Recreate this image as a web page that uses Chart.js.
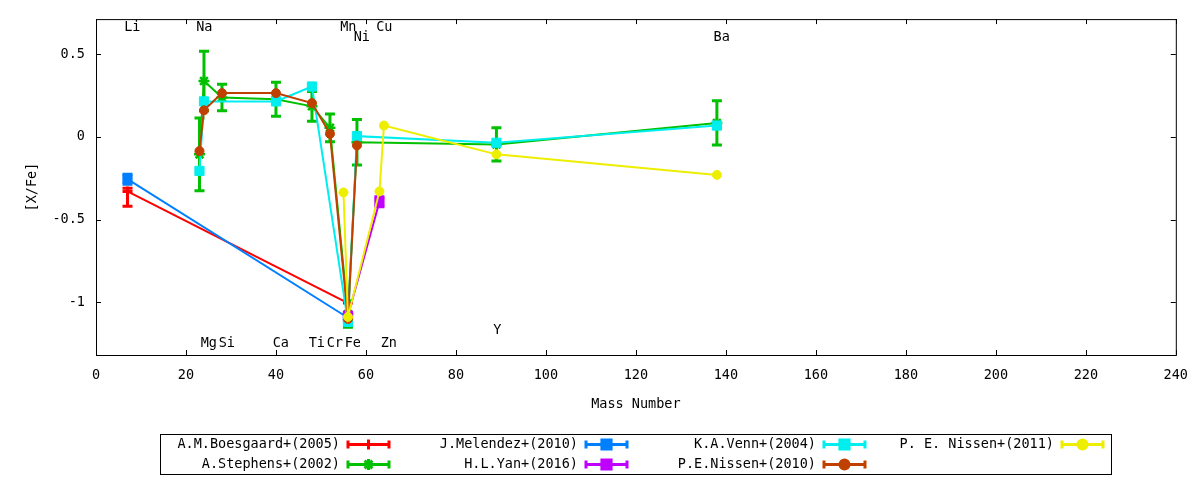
<!DOCTYPE html>
<html>
<head>
<meta charset="utf-8">
<script src="https://cdn.jsdelivr.net/npm/chart.js@4.4.1/dist/chart.umd.min.js"></script>
<style>
  html, body { margin: 0; padding: 0; background: #fff; }
  #wrap { width: 1200px; height: 480px; }
</style>
</head>
<body>
<div id="wrap"><canvas id="chart" width="1200" height="480"></canvas></div>
<script>
// axis ticks
const xTicks = [0, 20, 40, 60, 80, 100, 120, 140, 160, 180, 200, 220, 240];
const yTicks = [-1, -0.5, 0, 0.5];

// element labels (mass, [X/Fe] height where the name sits)
const elementNames  = ['Li', 'Na', 'Mn', 'Ni', 'Cu', 'Ba', 'Mg', 'Si', 'Ca', 'Ti', 'Cr', 'Fe', 'Zn', 'Y'];
const elementMasses = [7, 23, 55, 58, 63, 138, 24, 28, 40, 48, 52, 56, 64, 89];
const elementLabelY = [0.66, 0.66, 0.66, 0.60, 0.66, 0.60, -1.25, -1.25, -1.25, -1.25, -1.25, -1.25, -1.25, -1.17];

// A.M.Boesgaard+(2005)
const boesgaardX = [7, 56];
const boesgaardY = [-0.33, -1.004];
const boesgaardLow = [-0.42, null];
const boesgaardHigh = [-0.31, null];

// A.Stephens+(2002)
const stephensX = [23, 24, 28, 40, 48, 52, 56, 58, 89, 138];
const stephensY = [-0.106, 0.337, 0.238, 0.227, 0.184, 0.054, -1.07, -0.033, -0.046, 0.084];
const stephensErr = [0.22, 0.18, 0.08, 0.103, 0.09, 0.084, 0.08, 0.137, 0.10, 0.134];

// J.Melendez+(2010)
const melendezX = [7, 56];
const melendezY = [-0.256, -1.093];
const melendezErr = [0.03, 0];

// H.L.Yan+(2016)
const yanX = [56, 63];
const yanY = [-1.08, -0.392];
const yanErr = [0, 0.03];

// K.A.Venn+(2004)
const vennX = [23, 24, 40, 48, 56, 58, 89, 138];
const vennY = [-0.206, 0.214, 0.214, 0.304, -1.118, 0.004, -0.036, 0.068];

// P.E.Nissen+(2010)
const nissen10X = [23, 24, 28, 40, 48, 52, 56, 58];
const nissen10Y = [-0.086, 0.160, 0.264, 0.264, 0.204, 0.018, -1.10, -0.052];

// P. E. Nissen+(2011)
const nissen11X = [55, 56, 63, 64, 89, 138];
const nissen11Y = [-0.336, -1.088, -0.330, 0.068, -0.106, -0.230];

const FONT = '"DejaVu Sans Mono", "Liberation Mono", monospace';

function points(xs, ys) {
  return xs.map((x, i) => ({ x: x, y: ys[i] }));
}

function symErrors(ys, errs) {
  return ys.map((y, i) => errs[i] ? [y - errs[i], y + errs[i]] : null);
}

function makeSet(label, xs, ys, errors, color, style, radius, pbw) {
  return {
    label: label,
    data: points(xs, ys),
    errors: errors,
    borderColor: color,
    backgroundColor: color,
    borderWidth: 2,
    pointStyle: style,
    pointRadius: radius,
    pointBorderWidth: pbw,
    pointBackgroundColor: color,
    pointBorderColor: color,
    tension: 0,
    fill: false
  };
}

const datasets = [
  makeSet('A.M.Boesgaard+(2005)', boesgaardX, boesgaardY,
    boesgaardX.map((x, i) => boesgaardLow[i] === null ? null : [boesgaardLow[i], boesgaardHigh[i]]),
    '#ff0000', 'cross', 5, 3),
  makeSet('A.Stephens+(2002)', stephensX, stephensY, symErrors(stephensY, stephensErr),
    '#00c000', 'star', 5.5, 2.5),
  makeSet('J.Melendez+(2010)', melendezX, melendezY, symErrors(melendezY, melendezErr),
    '#0080ff', 'rect', 6.5, 1),
  makeSet('H.L.Yan+(2016)', yanX, yanY, symErrors(yanY, yanErr),
    '#c000ff', 'rect', 6.5, 1),
  makeSet('K.A.Venn+(2004)', vennX, vennY, null,
    '#00eeee', 'rect', 6.5, 1),
  makeSet('P.E.Nissen+(2010)', nissen10X, nissen10Y, null,
    '#c04000', 'circle', 4.5, 1),
  makeSet('P. E. Nissen+(2011)', nissen11X, nissen11Y, null,
    '#eeee00', 'circle', 4.5, 1)
];
// gnuplot draws later series on top
datasets.forEach((ds, i) => { ds.order = datasets.length - 1 - i; });

const errorBars = {
  id: 'errorBars',
  beforeDatasetDraw(chart, args) {
    const ds = chart.data.datasets[args.index];
    if (!ds.errors) return;
    const xs = chart.scales.x, ys = chart.scales.y, ctx = chart.ctx;
    const a = chart.chartArea;
    ctx.save();
    ctx.beginPath();
    ctx.rect(a.left, a.top, a.right - a.left, a.bottom - a.top);
    ctx.clip();
    ctx.strokeStyle = ds.borderColor;
    ctx.lineWidth = 3;
    ds.data.forEach((p, i) => {
      const e = ds.errors[i];
      if (!e) return;
      const px = xs.getPixelForValue(p.x);
      const lo = ys.getPixelForValue(e[0]);
      const hi = ys.getPixelForValue(e[1]);
      ctx.beginPath();
      ctx.moveTo(px, lo); ctx.lineTo(px, hi);
      ctx.moveTo(px - 5, lo); ctx.lineTo(px + 5, lo);
      ctx.moveTo(px - 5, hi); ctx.lineTo(px + 5, hi);
      ctx.stroke();
    });
    ctx.restore();
  }
};

const decorations = {
  id: 'decorations',
  afterDatasetsDraw(chart) {
    const ctx = chart.ctx, xs = chart.scales.x, ys = chart.scales.y;
    ctx.save();
    ctx.fillStyle = '#000';
    ctx.font = '13.5px ' + FONT;
    ctx.textAlign = 'left';
    ctx.textBaseline = 'middle';
    elementNames.forEach((n, i) => {
      ctx.fillText(n, xs.getPixelForValue(elementMasses[i]) - 3.3, ys.getPixelForValue(elementLabelY[i]));
    });
    ctx.restore();
  },
  afterDraw(chart) {
    const ctx = chart.ctx, a = chart.chartArea;
    const xs = chart.scales.x, ys = chart.scales.y;
    ctx.save();
    ctx.strokeStyle = '#000';
    ctx.lineWidth = 1;
    ctx.strokeRect(a.left + 0.5, a.top + 0.5, a.right - a.left, a.bottom - a.top);

    // inward ticks on all four sides
    ctx.beginPath();
    yTicks.forEach(v => {
      const py = Math.round(ys.getPixelForValue(v)) + 0.5;
      ctx.moveTo(a.left, py); ctx.lineTo(a.left + 5, py);
      ctx.moveTo(a.right, py); ctx.lineTo(a.right - 5, py);
    });
    xTicks.forEach(v => {
      const px = Math.round(xs.getPixelForValue(v)) + 0.5;
      ctx.moveTo(px, a.bottom); ctx.lineTo(px, a.bottom - 5);
      ctx.moveTo(px, a.top); ctx.lineTo(px, a.top + 5);
    });
    ctx.stroke();

    // axis titles
    ctx.fillStyle = '#000';
    ctx.font = '13.5px ' + FONT;
    ctx.textAlign = 'center';
    ctx.textBaseline = 'middle';
    ctx.fillText('Mass Number', (a.left + a.right) / 2, 404.5);
    ctx.save();
    ctx.translate(32, (a.top + a.bottom) / 2);
    ctx.rotate(-Math.PI / 2);
    ctx.fillText('[X/Fe]', 0, 0);
    ctx.restore();

    // key box, gnuplot style: text right-justified, sample after it
    ctx.strokeRect(160.5, 434.5, 951, 40);
    chart.data.datasets.forEach((ds, i) => {
      const col = Math.floor(i / 2), row = i % 2;
      const textRight = 340 + col * 238;
      const y = 444.5 + row * 20;
      ctx.fillStyle = '#000';
      ctx.textAlign = 'right';
      ctx.fillText(ds.label, textRight, y);
      const x0 = textRight + 7, x1 = textRight + 50;
      ctx.strokeStyle = ds.borderColor;
      ctx.lineWidth = 3;
      ctx.beginPath();
      ctx.moveTo(x0, y); ctx.lineTo(x1, y);
      ctx.moveTo(x0 + 1, y - 4); ctx.lineTo(x0 + 1, y + 4);
      ctx.moveTo(x1 - 1, y - 4); ctx.lineTo(x1 - 1, y + 4);
      ctx.stroke();
      ctx.fillStyle = ds.pointBackgroundColor;
      Chart.helpers.drawPoint(ctx, {
        pointStyle: ds.pointStyle,
        radius: ds.pointRadius,
        borderWidth: ds.pointBorderWidth,
        rotation: 0
      }, (x0 + x1) / 2, y);
    });
    ctx.restore();
  }
};

new Chart(document.getElementById('chart'), {
  type: 'line',
  data: { datasets: datasets },
  plugins: [errorBars, decorations],
  options: {
    responsive: false,
    animation: false,
    devicePixelRatio: 1,
    events: [],
    layout: { padding: { left: 0, top: 17, right: 24, bottom: 85 } },
    plugins: { legend: { display: false }, tooltip: { enabled: false } },
    scales: {
      x: {
        type: 'linear',
        min: 0,
        max: 240,
        afterBuildTicks: s => { s.ticks = xTicks.map(v => ({ value: v })); },
        afterFit: s => { s.height = 40; },
        grid: { display: false, drawTicks: false },
        border: { display: false },
        ticks: {
          padding: 12,
          color: '#000',
          font: { family: FONT, size: 13.5 },
          callback: v => String(v)
        }
      },
      y: {
        type: 'linear',
        min: -1.318,
        max: 0.711,
        afterBuildTicks: s => { s.ticks = yTicks.map(v => ({ value: v })); },
        afterFit: s => { s.width = 96; },
        grid: { display: false, drawTicks: false },
        border: { display: false },
        ticks: {
          padding: 11,
          color: '#000',
          font: { family: FONT, size: 13.5 },
          callback: v => String(v)
        }
      }
    }
  }
});
</script>
</body>
</html>
